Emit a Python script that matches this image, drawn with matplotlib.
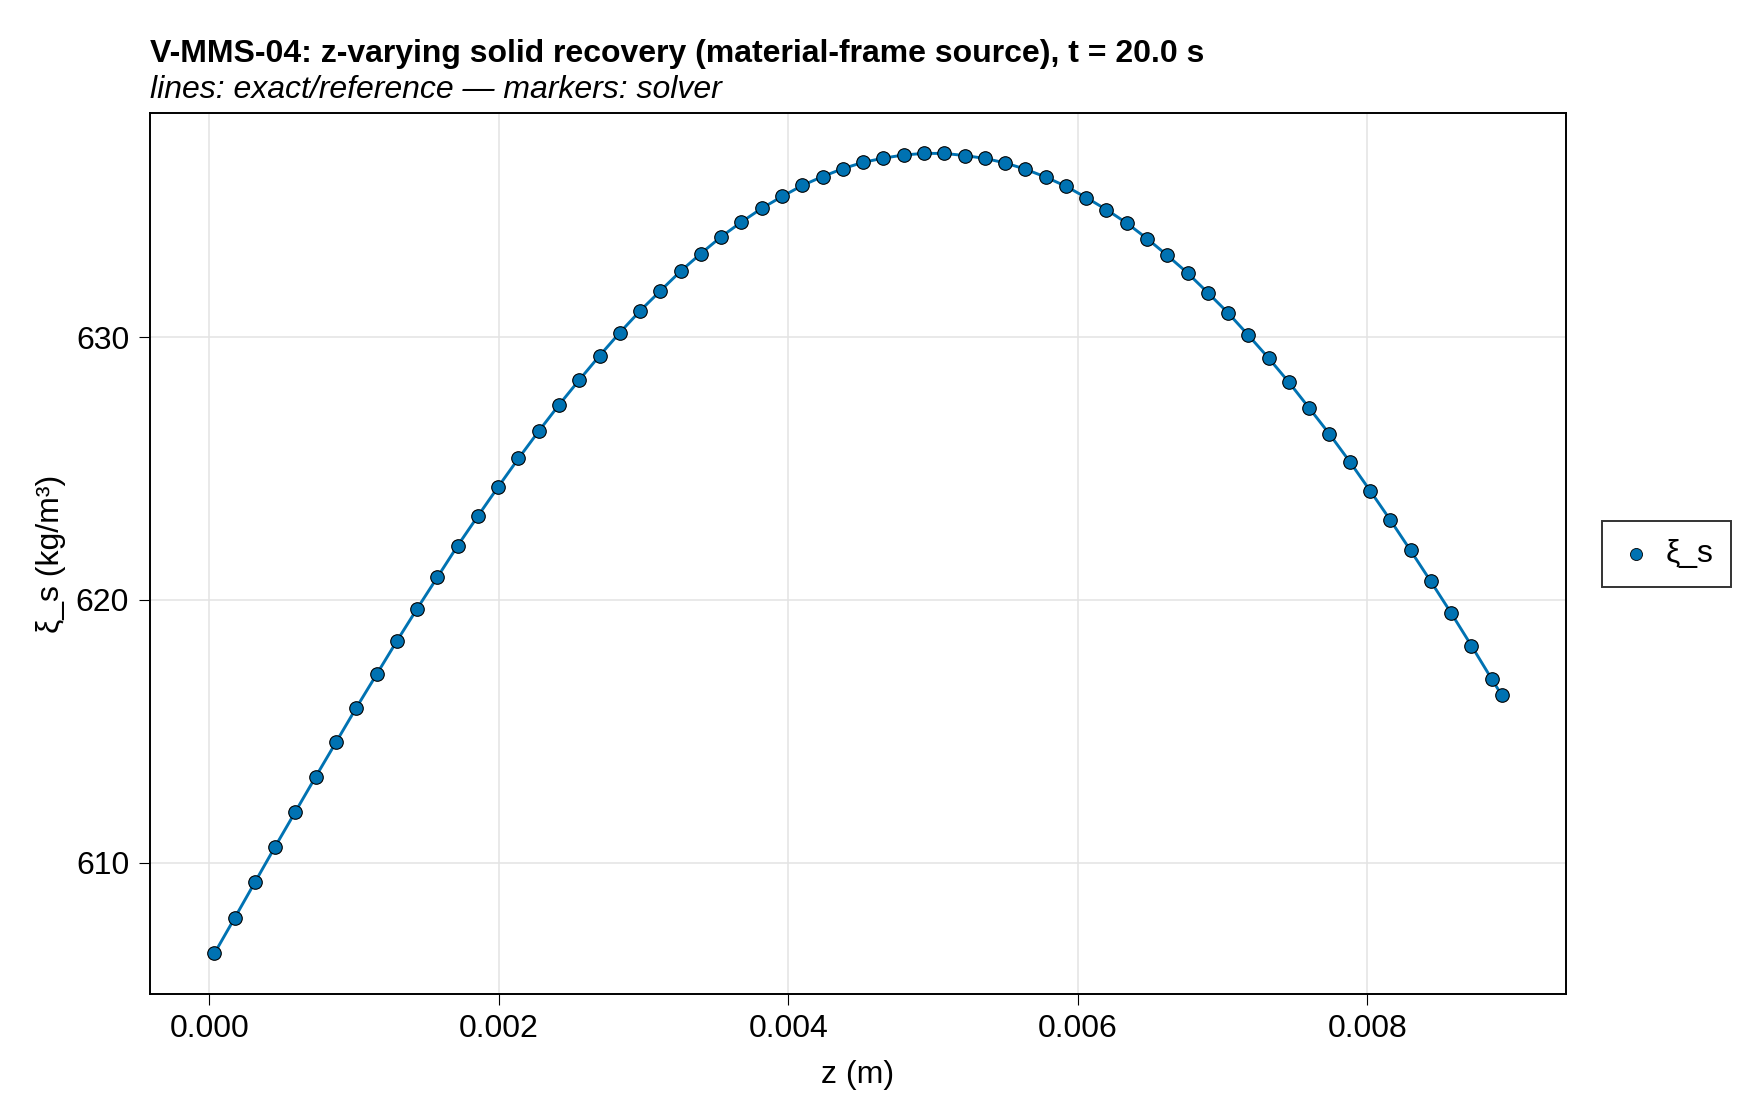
import matplotlib

matplotlib.use("Agg")
import matplotlib.pyplot as plt

# solver samples (z in m, xi_s in kg/m^3)
z_m = [
    0.0000345, 0.0001746, 0.0003146, 0.0004547, 0.0005948, 0.0007349, 0.0008749,
    0.0010150, 0.0011551, 0.0012951, 0.0014352, 0.0015753, 0.0017153, 0.0018554,
    0.0019955, 0.0021356, 0.0022756, 0.0024157, 0.0025558, 0.0026958, 0.0028359,
    0.0029760, 0.0031160, 0.0032561, 0.0033962, 0.0035363, 0.0036763, 0.0038164,
    0.0039565, 0.0040965, 0.0042366, 0.0043767, 0.0045167, 0.0046568, 0.0047969,
    0.0049370, 0.0050770, 0.0052171, 0.0053572, 0.0054972, 0.0056373, 0.0057774,
    0.0059174, 0.0060575, 0.0061976, 0.0063377, 0.0064777, 0.0066178, 0.0067579,
    0.0068979, 0.0070380, 0.0071781, 0.0073181, 0.0074582, 0.0075983, 0.0077384,
    0.0078784, 0.0080185, 0.0081586, 0.0082986, 0.0084387, 0.0085788, 0.0087188,
    0.0088589, 0.0089280,
]
xi_s = [
    606.54, 607.89, 609.25, 610.61, 611.94, 613.27, 614.58, 615.89, 617.16, 618.43,
    619.66, 620.86, 622.06, 623.19, 624.30, 625.38, 626.42, 627.42, 628.37, 629.29,
    630.17, 631.00, 631.76, 632.51, 633.18, 633.82, 634.38, 634.90, 635.35, 635.77,
    636.11, 636.41, 636.65, 636.81, 636.93, 636.99, 636.99, 636.91, 636.80, 636.63,
    636.39, 636.09, 635.74, 635.31, 634.85, 634.34, 633.75, 633.11, 632.44, 631.69,
    630.92, 630.07, 629.20, 628.28, 627.30, 626.31, 625.26, 624.16, 623.04, 621.88,
    620.70, 619.50, 618.26, 616.99, 616.38,
]
x_ticks = [0.000, 0.002, 0.004, 0.006, 0.008]
y_ticks = [610, 620, 630]

BLUE = "#0072B2"
W, H = 1760, 1120
FS = 23

plt.rcParams.update({"font.family": ["Liberation Sans", "DejaVu Sans"]})

fig = plt.figure(figsize=(W / 100, H / 100), dpi=100)
ax = fig.add_axes([150 / W, 1 - 993.5 / H, (1566 - 150) / W, (993.5 - 113.4) / H])

ax.plot(z_m, xi_s, color=BLUE, lw=2.1, zorder=2)
ax.scatter(z_m, xi_s, s=95, color=BLUE, edgecolors="black", linewidths=0.8,
           zorder=3, label="ξ_s")
ax.margins(0.05)

ax.set_xticks(x_ticks)
ax.set_xticklabels([f"{v:.3f}" for v in x_ticks])
ax.set_yticks(y_ticks)
ax.grid(True, color="#e3e3e3", lw=1.1)
ax.set_axisbelow(True)
ax.tick_params(labelsize=FS, length=8, width=0.8, pad=7, direction="out")
for sp in ax.spines.values():
    sp.set_linewidth(1.4)

fig.text(150 / W, 1 - 61.7 / H, "V-MMS-04: z-varying solid recovery (material-frame source), t = 20.0 s",
         fontsize=FS, fontweight="bold", ha="left", va="baseline")
fig.text(150 / W, 1 - 98.3 / H, "lines: exact/reference — markers: solver",
         fontsize=FS, style="italic", ha="left", va="baseline")
fig.text(858 / W, 1 - 1083 / H, "z (m)", fontsize=FS, ha="center", va="baseline")
fig.text(50.5 / W, 1 - 553.5 / H, "ξ_s (kg/m³)", fontsize=FS, rotation=90,
         ha="center", va="center")

leg = ax.legend(loc="center left", bbox_to_anchor=(1602 / W, 1 - 554 / H),
                bbox_transform=fig.transFigure, fontsize=FS, frameon=True,
                fancybox=False, edgecolor="black", handlelength=1.0,
                handletextpad=0.45, borderpad=0.55, borderaxespad=0)
leg.get_frame().set_linewidth(1.4)
for h in leg.legend_handles:
    h.set_sizes([75])
    h.set_linewidths(0.6)

fig.savefig("out.png", dpi=100)
